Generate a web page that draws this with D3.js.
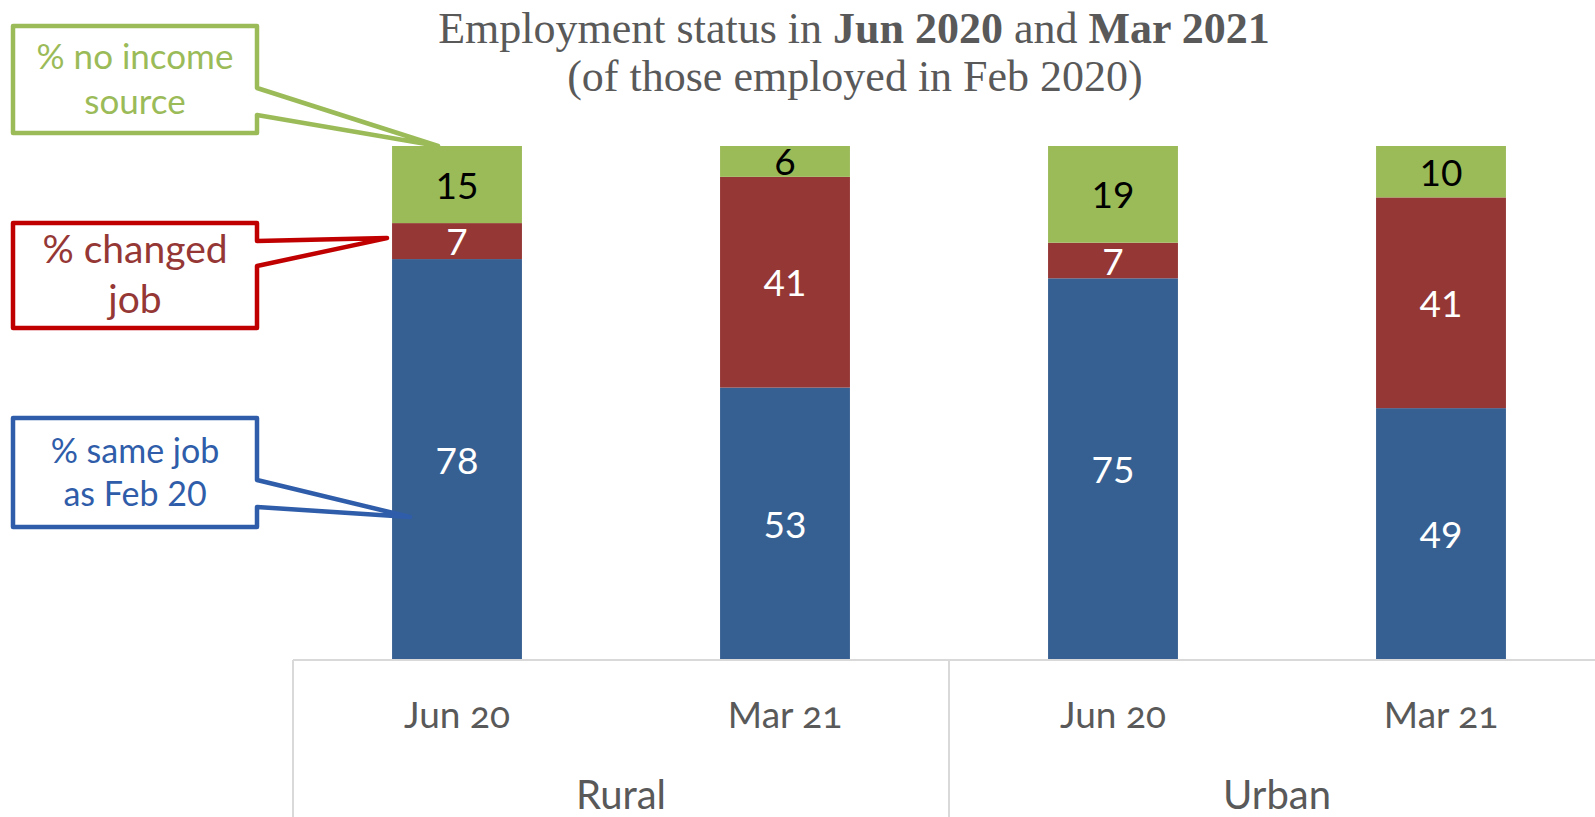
<!DOCTYPE html>
<html>
<head>
<meta charset="utf-8">
<script src="https://cdn.jsdelivr.net/npm/d3@7"></script>
<style>
  html, body { margin: 0; padding: 0; background: #fff; }
  svg { display: block; }
  .round-label { font-feature-settings: "onum" 1; }
</style>
</head>
<body>
<svg id="chart" width="1595" height="817"></svg>
<script>
// Categories: survey round within each area
const groups = ["Rural", "Urban"];
const rounds = ["Jun 20", "Mar 21"];
const categories = ["Rural|Jun 20", "Rural|Mar 21", "Urban|Jun 20", "Urban|Mar 21"];

// Shares (%) of those employed in Feb 2020
const sameJob   = [78, 53, 75, 49];
const changed   = [7, 41, 7, 41];
const noIncome  = [15, 6, 19, 10];

const seriesKeys = ["same", "changed", "none"];
const colors = { same: "#376092", changed: "#953735", none: "#9BBB59" };
const labelColors = { same: "#ffffff", changed: "#ffffff", none: "#000000" };

const rows = categories.map((c, i) => ({
  cat: c, same: sameJob[i], changed: changed[i], none: noIncome[i]
}));

const svg = d3.select("#chart");
const W = 1595, H = 817;
const plotLeft = 293, plotRight = 1605, plotTop = 146, plotBottom = 660;

const x = d3.scaleBand().domain(categories).range([plotLeft, plotRight])
  .paddingInner(0.604).paddingOuter(0.302);
const xg = d3.scaleBand().domain(groups).range([plotLeft, plotRight]);
const y = d3.scaleLinear().domain([0, 1]).range([plotBottom, plotTop]);

// 100% stacked columns
const stack = d3.stack().keys(seriesKeys).offset(d3.stackOffsetExpand);
const layers = stack(rows);

const sansFont = "Lato, 'Open Sans', sans-serif";

const layerG = svg.append("g").selectAll("g").data(layers).join("g")
  .attr("fill", d => colors[d.key]);

layerG.selectAll("rect").data(d => d).join("rect")
  .attr("x", d => x(d.data.cat))
  .attr("width", x.bandwidth())
  .attr("y", d => y(d[1]))
  .attr("height", d => y(d[0]) - y(d[1]));

// Value labels
layers.forEach(layer => {
  svg.append("g").selectAll("text").data(layer).join("text")
    .attr("x", d => x(d.data.cat) + x.bandwidth() / 2)
    .attr("y", d => (y(d[0]) + y(d[1])) / 2 + 14)
    .attr("text-anchor", "middle")
    .attr("font-family", sansFont)
    .attr("font-size", 37)
    .attr("fill", labelColors[layer.key])
    .text(d => d.data[layer.key]);
});

// Category axis frame
const axisColor = "#d9d9d9";
const frame = svg.append("g").attr("stroke", axisColor).attr("stroke-width", 2).attr("fill", "none");
frame.append("line").attr("x1", plotLeft).attr("x2", plotRight).attr("y1", plotBottom).attr("y2", plotBottom);
[plotLeft, xg("Urban"), plotRight].forEach(px => {
  frame.append("line").attr("x1", px).attr("x2", px).attr("y1", plotBottom).attr("y2", H);
});

// Round labels
svg.append("g").selectAll("text").data(categories).join("text")
  .attr("class", "round-label")
  .attr("x", d => x(d) + x.bandwidth() / 2)
  .attr("y", 728)
  .attr("text-anchor", "middle")
  .attr("font-family", sansFont)
  .attr("font-size", 37)
  .attr("fill", "#595959")
  .text(d => d.split("|")[1]);

// Area labels
svg.append("g").selectAll("text").data(groups).join("text")
  .attr("x", d => xg(d) + xg.bandwidth() / 2)
  .attr("y", 809)
  .attr("text-anchor", "middle")
  .attr("font-family", sansFont)
  .attr("font-size", 40)
  .attr("fill", "#595959")
  .text(d => d);

// Title
const title = svg.append("g").attr("font-family", "'Liberation Serif', 'Times New Roman', serif")
  .attr("font-size", 44).attr("fill", "#595959").attr("text-anchor", "middle");
const t1 = title.append("text").attr("x", 854).attr("y", 43);
t1.append("tspan").text("Employment status in ");
t1.append("tspan").attr("font-weight", "bold").text("Jun 2020");
t1.append("tspan").text(" and ");
t1.append("tspan").attr("font-weight", "bold").text("Mar 2021");
title.append("text").attr("x", 855).attr("y", 91).text("(of those employed in Feb 2020)");

// Callouts: box with a wedge pointing at a segment of the first column
const firstBar = layers.map(l => l[0]);
const barLeft = x(categories[0]);
const callouts = [
  { lines: ["% no income", "source"], stroke: "#9BBB59", text: "#9BBB59",
    box: [13, 26, 257, 133], wedge: [88, 115], tip: [barLeft + 46, y(firstBar[2][1])],
    size: 35, base: 69, lh: 45 },
  { lines: ["% changed", "job"], stroke: "#C00000", text: "#953735",
    box: [13, 223, 257, 328], wedge: [241, 266], tip: [barLeft - 5, (y(firstBar[1][0]) + y(firstBar[1][1])) / 2 - 3],
    size: 39, base: 263, lh: 50 },
  { lines: ["% same job", "as Feb 20"], stroke: "#2F5DA9", text: "#2F5DA9",
    box: [13, 418, 257, 527], wedge: [480, 507], tip: [barLeft + 18, 517],
    size: 34, base: 463, lh: 43 }
];

callouts.forEach(c => {
  const [x0, y0, x1, y1] = c.box;
  const path = d3.path();
  path.moveTo(x0, y0);
  path.lineTo(x1, y0);
  path.lineTo(x1, c.wedge[0]);
  path.lineTo(c.tip[0], c.tip[1]);
  path.lineTo(x1, c.wedge[1]);
  path.lineTo(x1, y1);
  path.lineTo(x0, y1);
  path.closePath();
  svg.append("path").attr("d", path.toString())
    .attr("fill", "#ffffff").attr("stroke", c.stroke).attr("stroke-width", 4.5)
    .attr("stroke-linejoin", "round");
  const tx = svg.append("text").attr("text-anchor", "middle")
    .attr("font-family", sansFont).attr("font-size", c.size).attr("fill", c.text);
  c.lines.forEach((ln, i) => {
    tx.append("tspan").attr("x", (x0 + x1) / 2).attr("y", c.base + i * c.lh).text(ln);
  });
});
</script>
</body>
</html>
